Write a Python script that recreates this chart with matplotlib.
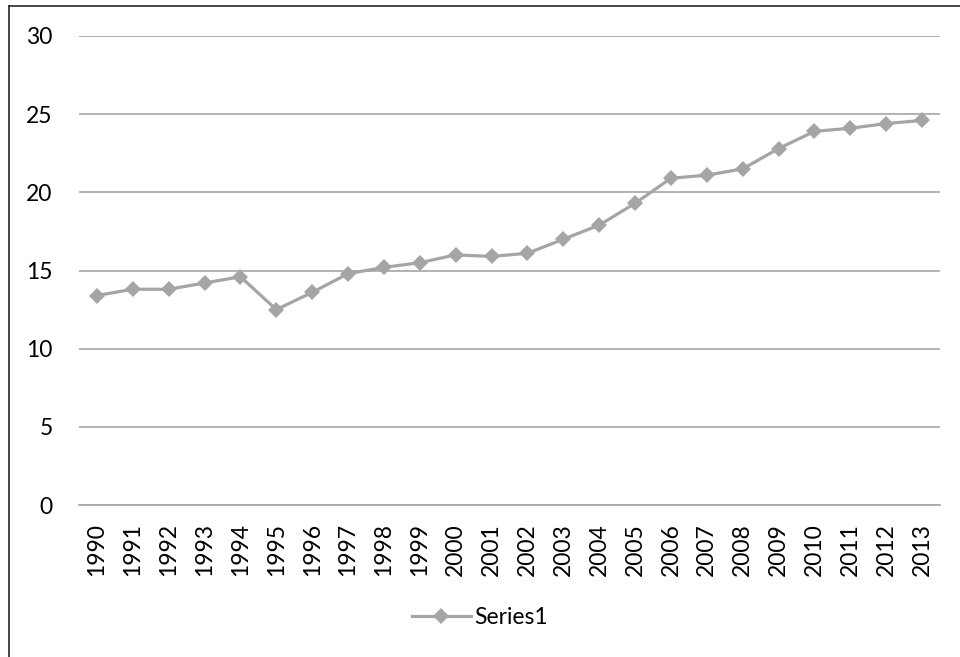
import matplotlib.pyplot as plt
from matplotlib.lines import Line2D

years = [str(y) for y in range(1990, 2014)]
values = [13.4, 13.8, 13.8, 14.2, 14.6, 12.5, 13.6, 14.8, 15.2, 15.5, 16.0, 15.9,
          16.1, 17.0, 17.9, 19.3, 20.9, 21.1, 21.5, 22.8, 23.9, 24.1, 24.4, 24.6]
y_ticks = [0, 5, 10, 15, 20, 25, 30]

plt.rcParams["font.family"] = ["Lato", "DejaVu Sans"]

SERIES_GREY = "#a5a5a5"
GRID_GREY = "#a6a6a6"
FONT_SIZE = 16.5

fig = plt.figure(figsize=(9.6, 6.57), dpi=100)
ax = fig.add_axes([79 / 960, 1 - 505 / 657, (940 - 79) / 960, (505 - 36) / 657])

positions = list(range(len(years)))
ax.plot(positions, values, color=SERIES_GREY, linewidth=2.3,
        marker="D", markersize=8.5, markeredgewidth=0, zorder=3, label="Series1")

ax.set_xlim(-0.5, len(years) - 0.5)
ax.set_ylim(0, 30)
ax.set_yticks(y_ticks)
ax.set_xticks(positions)
ax.set_xticklabels(years, rotation=90, fontsize=FONT_SIZE)
ax.tick_params(axis="y", length=0, pad=19, labelsize=FONT_SIZE)
ax.tick_params(axis="x", length=0, pad=13)

ax.grid(axis="y", color=GRID_GREY, linewidth=1.2)
ax.set_axisbelow(True)
for side in ("top", "right", "left"):
    ax.spines[side].set_visible(False)
ax.spines["bottom"].set_color(GRID_GREY)
ax.spines["bottom"].set_linewidth(1.2)

handle = Line2D([], [], color=SERIES_GREY, linewidth=2.3, marker="D",
                markersize=8.5, markeredgewidth=0)
fig.legend([handle], ["Series1"], loc="center", bbox_to_anchor=(0.5, 1 - 618 / 657),
           frameon=False, fontsize=FONT_SIZE, handlelength=2.6, handletextpad=0.15)

# chart-area outline (left and top edges)
fig.add_artist(Line2D([9 / 960, 9 / 960], [0, 1 - 6 / 657], transform=fig.transFigure,
                      color="#262626", linewidth=1.2))
fig.add_artist(Line2D([9 / 960, 1], [1 - 6 / 657, 1 - 6 / 657], transform=fig.transFigure,
                      color="#262626", linewidth=1.2))

fig.savefig("out.png", dpi=100)
